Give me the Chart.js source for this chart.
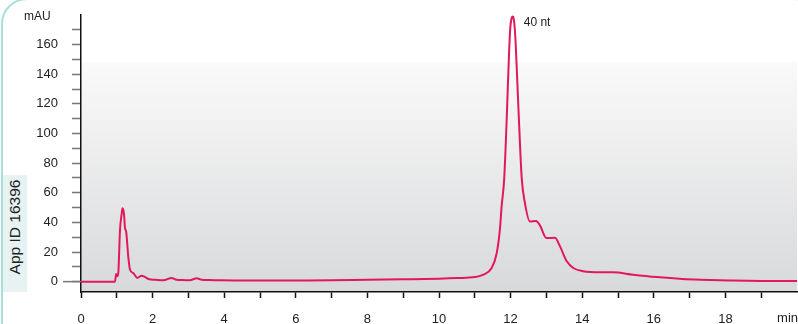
<!DOCTYPE html>
<html><head><meta charset="utf-8">
<script src="https://cdn.jsdelivr.net/npm/chart.js@4/dist/chart.umd.min.js"></script>
<style>
html,body{margin:0;padding:0;background:#fff;}
#wrap{position:relative;width:798px;height:324px;overflow:hidden;}
#frame{position:absolute;left:1px;top:-2px;width:820px;height:400px;border:2.5px solid #a9dfdb;border-radius:26px;box-sizing:border-box;}
#appbox{position:absolute;left:3px;top:175px;width:24px;height:117px;background:#e7f3f2;}
#apptxt{position:absolute;left:15px;top:227px;transform:translate(-50%,-50%) rotate(-90deg);white-space:nowrap;font:15.5px "Liberation Sans",Arial,sans-serif;color:#222;}
canvas{position:absolute;left:0;top:0;}
</style></head>
<body><div id="wrap">
<div id="frame"></div>
<div id="appbox"></div>
<div id="apptxt">App ID 16396</div>
<canvas id="c" width="798" height="324"></canvas>
</div>
<script>
const times = [0, 0.5, 0.95, 0.98, 1.01, 1.04, 1.09, 1.14, 1.16, 1.2, 1.23, 1.26, 1.32, 1.37, 1.46, 1.57, 1.69, 1.79, 1.88, 2.1, 2.3, 2.53, 2.67, 2.85, 3.04, 3.23, 3.37, 3.6, 3.9, 4.5, 5, 6, 7, 8, 9, 10, 10.5, 11, 11.24, 11.47, 11.61, 11.7, 11.75, 11.82, 11.89, 11.95, 11.99, 12.03, 12.06, 12.09, 12.13, 12.17, 12.24, 12.31, 12.4, 12.54, 12.71, 12.82, 13.0, 13.24, 13.38, 13.57, 13.75, 14.03, 14.5, 14.86, 15.42, 16.08, 16.8, 17.3, 18.2, 19, 20];
const absorbance = [0, 0, 0, 5.2, 3.6, 5.4, 35, 46.5, 49.6, 46, 36, 34, 17, 8, 5.8, 2.5, 4, 3.1, 1.8, 1.2, 0.9, 2.5, 1.3, 1.1, 0.9, 2.3, 1.3, 1.1, 0.9, 0.8, 0.7, 0.8, 0.9, 1.3, 1.6, 2, 2.4, 3.1, 4.7, 9.2, 19, 35, 51, 69, 109, 150, 171, 178, 179, 177, 166, 145, 105, 70, 53, 40.6, 41, 38, 29.4, 29.6, 23.8, 13.7, 9.2, 7, 6.3, 6.3, 4.7, 3.1, 1.8, 1.3, 0.8, 0.5, 0.4];
const yTicks = [0, 10, 20, 30, 40, 50, 60, 70, 80, 90, 100, 110, 120, 130, 140, 150, 160, 170];
const yLabels = [0, 20, 40, 60, 80, 100, 120, 140, 160];
const xTicks = [0, 1, 2, 3, 4, 5, 6, 7, 8, 9, 10, 11, 12, 13, 14, 15, 16, 17, 18, 19];
const yUnit = 'mAU';
const xUnit = 'min';
const peakLabel = '40 nt';

const FONT = '"Liberation Sans", Arial, sans-serif';
const pts = times.map((t, i) => ({x: t, y: absorbance[i]}));

const deco = {
  id: 'deco',
  beforeDraw(chart) {
    const {ctx, chartArea: a} = chart;
    const top = 62;
    const g = ctx.createLinearGradient(0, top, 0, a.bottom);
    g.addColorStop(0, '#fafafa');
    g.addColorStop(1, '#d8d9db');
    ctx.save();
    ctx.fillStyle = g;
    ctx.fillRect(a.left, top, a.right - a.left, a.bottom - top);
    ctx.restore();
  },
  afterDraw(chart) {
    const {ctx, chartArea: a, scales} = chart;
    ctx.save();
    const y0 = scales.y.getPixelForValue(0);
    ctx.strokeStyle = '#777';
    ctx.lineWidth = 1.5;
    ctx.beginPath();
    ctx.moveTo(63, y0); ctx.lineTo(a.left, y0);
    ctx.stroke();
    ctx.fillStyle = '#222';
    ctx.textBaseline = 'middle';
    ctx.font = '13px ' + FONT;
    ctx.textAlign = 'right';
    yLabels.forEach(v => ctx.fillText(String(v), 58, scales.y.getPixelForValue(v)));
    ctx.fillText(xUnit, 798, 318);
    ctx.font = '12px ' + FONT;
    ctx.textAlign = 'left';
    ctx.fillText(yUnit, 24, 17);
    const pk = absorbance.indexOf(Math.max(...absorbance));
    ctx.fillText(peakLabel, scales.x.getPixelForValue(times[pk]) + 11, scales.y.getPixelForValue(absorbance[pk]) + 6);
    ctx.restore();
  }
};

new Chart(document.getElementById('c'), {
  type: 'line',
  data: { datasets: [{
    data: pts,
    borderColor: '#e2185b',
    borderWidth: 2,
    pointRadius: 0,
    fill: false,
    clip: 4,
    cubicInterpolationMode: 'monotone'
  }]},
  options: {
    responsive: false,
    animation: false,
    devicePixelRatio: 1,
    layout: { padding: { left: 0, right: 1, top: 15, bottom: 0 } },
    plugins: { legend: { display: false }, tooltip: { enabled: false } },
    scales: {
      x: {
        type: 'linear', min: 0, max: 20,
        afterBuildTicks(s) { s.ticks = xTicks.map(v => ({value: v})); },
        afterFit(s) { s.height = 32; },
        grid: { drawOnChartArea: false, drawTicks: true, tickLength: 6, tickColor: '#111', tickWidth: 1.5 },
        border: { color: '#111', width: 1.5 },
        ticks: {
          autoSkip: false, maxRotation: 0, padding: 14,
          color: '#222', font: { family: FONT, size: 13 },
          callback: v => (v % 2 === 0 ? String(v) : '')
        }
      },
      y: {
        type: 'linear', min: -7, max: 180,
        afterBuildTicks(s) { s.ticks = yTicks.map(v => ({value: v})); },
        afterFit(s) { s.width = 81; },
        grid: { drawOnChartArea: false, drawTicks: true, tickLength: 9, tickColor: '#777', tickWidth: 1.5 },
        border: { color: '#111', width: 1.5 },
        ticks: { display: false }
      }
    }
  },
  plugins: [deco]
});
</script>
</body></html>
